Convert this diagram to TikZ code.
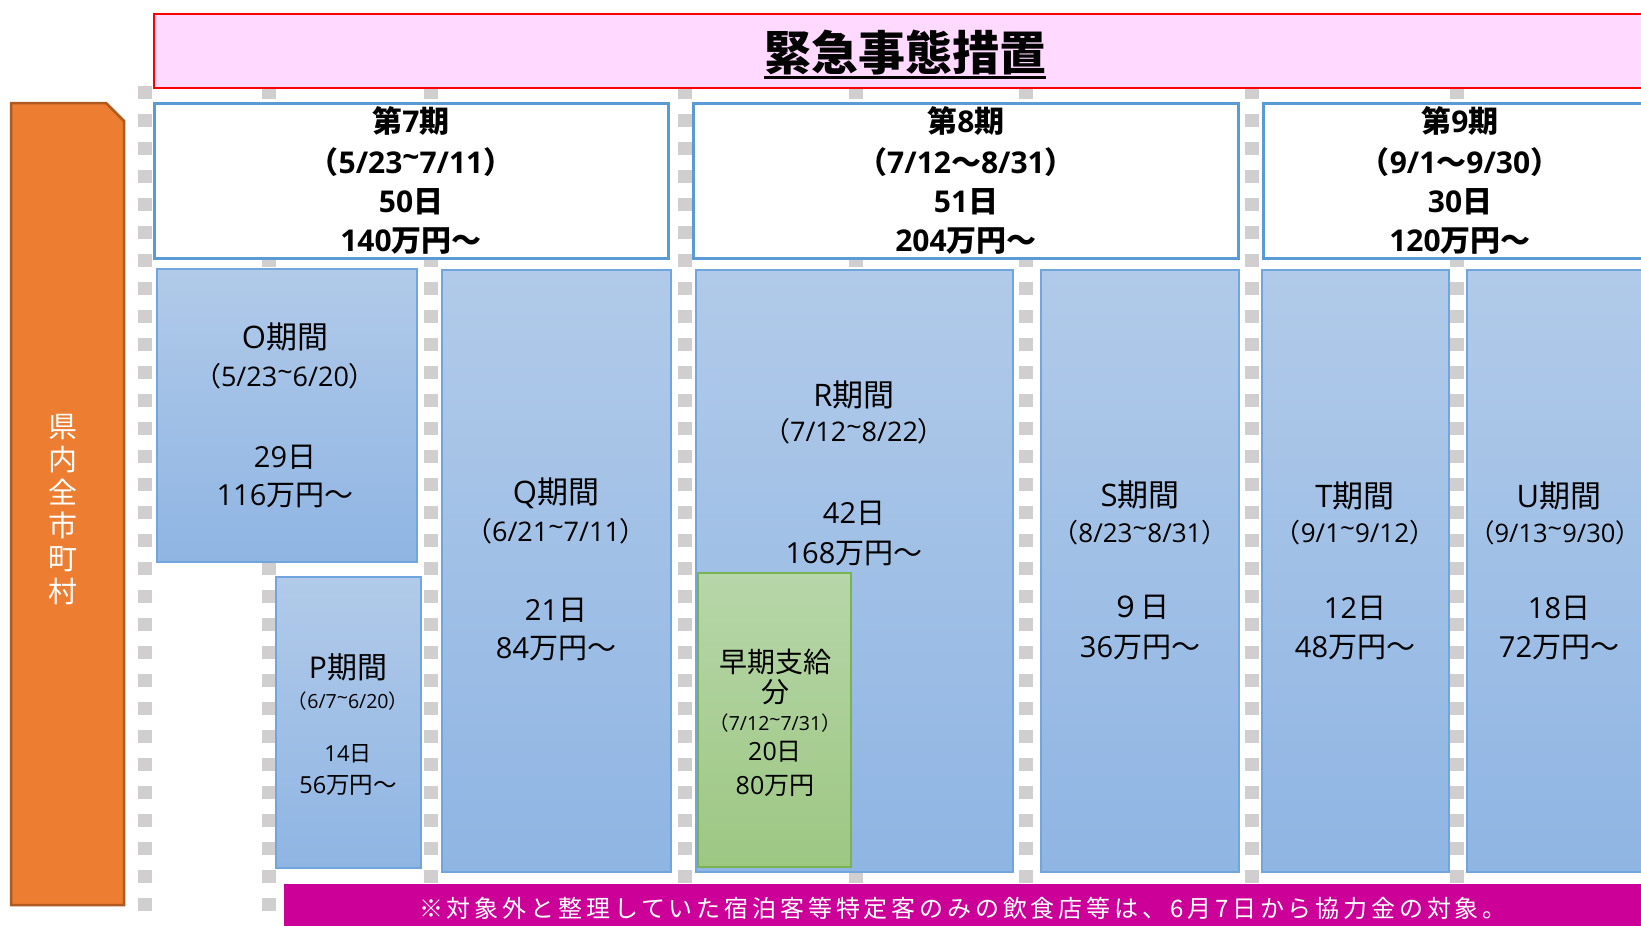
\documentclass[tikz,border=0pt]{standalone}
\usepackage{fontspec}
\setmainfont{Noto Sans CJK JP}
\newfontfamily\lat{Open Sans}
\newcommand\la[1]{{\lat #1}}
\newcommand\tld{\raisebox{0.2em}{\textasciitilde}}
\definecolor{dashgray}{RGB}{208,206,206}
\definecolor{btop}{RGB}{177,202,233}
\definecolor{bbot}{RGB}{143,181,227}
\definecolor{bborder}{RGB}{112,165,221}
\definecolor{gtop}{RGB}{183,214,169}
\definecolor{gbot}{RGB}{157,199,131}
\definecolor{gborder}{RGB}{122,180,82}
\definecolor{hborder}{RGB}{91,155,213}
\definecolor{orfill}{RGB}{237,125,49}
\definecolor{orborder}{RGB}{174,90,33}
\definecolor{pinkfill}{RGB}{255,217,255}
\definecolor{magbar}{RGB}{204,0,153}
\newcommand\bx[6][]{\node[#1, minimum width={#5-#3}, minimum height={#6-#4}] (#2) at ({(#3+#5)/2},{(#4+#6)/2}) {};}
\newcommand\tx[6][]{\node[anchor=base, inner sep=0pt, #1] (#2) at (#3,{#4+0.36*#5}) {\fontsize{#5}{#5}\selectfont #6};}
\begin{document}
\begin{tikzpicture}[x=1pt,y=-1pt,
  gline/.style={draw=dashgray, line width=14pt, dash pattern=on 13pt off 15pt},
  bluebox/.style={draw=bborder, line width=1.5pt, top color=btop, bottom color=bbot, inner sep=0pt, outer sep=0pt},
  greenbox/.style={draw=gborder, line width=1.5pt, top color=gtop, bottom color=gbot, inner sep=0pt, outer sep=0pt},
  headbox/.style={draw=hborder, line width=3pt, fill=white, inner sep=0pt, outer sep=0pt},
  pinkbox/.style={draw=red, line width=2pt, fill=pinkfill, inner sep=0pt, outer sep=0pt},
  magbox/.style={fill=magbar, inner sep=0pt, outer sep=0pt},
  htext/.style={font=\bfseries},
]
\useasboundingbox (0,0) rectangle (1641,926);
\clip (0,0) rectangle (1641,926);
% dashed gray guide lines
\foreach \gx [count=\gi] in {145,269,431,685,856,1026,1252,1457}{
  \coordinate (gt\gi) at (\gx,86);
  \coordinate (gb\gi) at (\gx,913);
  \draw[gline] (gt\gi) -- (gb\gi);
}
% top banner
\bx[pinkbox]{banner}{154}{14}{1660}{88}
\tx[htext]{title}{905}{53.5}{47}{緊急事態措置}
\draw[line width=3pt] ([yshift=-7pt]title.base west) -- ([yshift=-7pt]title.base east);
% orange side label
\draw[fill=orfill, draw=orborder, line width=2.5pt] (11,103) -- (106,103) -- (124,121) -- (124,905) -- (11,905) -- cycle;
\node[text=white, align=center, inner sep=0pt, font={\fontsize{29}{33}\selectfont}] (side) at (63,509.5) {県\\内\\全\\市\\町\\村};
% header boxes
\bx[headbox]{h7}{154}{103}{668}{258}
\bx[headbox]{h8}{693}{103}{1238}{258}
\bx[headbox]{h9}{1263}{103}{1657}{258}
\tx[htext]{h7a}{411}{122}{30}{第\la{7}期}
\tx[htext]{h7b}{411}{163}{30}{（\la{5/23\tld7/11}）}
\tx[htext]{h7c}{411}{202}{30}{\la{50}日}
\tx[htext]{h7d}{411}{241}{30}{\la{140}万円～}
\tx[htext]{h8a}{966}{122}{30}{第\la{8}期}
\tx[htext]{h8b}{966}{163}{30}{（\la{7/12}～\la{8/31}）}
\tx[htext]{h8c}{966}{202}{30}{\la{51}日}
\tx[htext]{h8d}{966}{241}{30}{\la{204}万円～}
\tx[htext]{h9a}{1460}{122}{30}{第\la{9}期}
\tx[htext]{h9b}{1460}{163}{30}{（\la{9/1}～\la{9/30}）}
\tx[htext]{h9c}{1460}{202}{30}{\la{30}日}
\tx[htext]{h9d}{1460}{241}{30}{\la{120}万円～}
% period boxes
\bx[bluebox]{O}{157}{269}{417}{562}
\bx[bluebox]{P}{276}{577}{421}{868}
\bx[bluebox]{Q}{442}{270}{671}{872}
\bx[bluebox]{R}{696}{270}{1013}{872}
\bx[greenbox]{G}{698}{573}{851}{867}
\bx[bluebox]{S}{1041}{270}{1239}{872}
\bx[bluebox]{T}{1262}{270}{1449}{872}
\bx[bluebox]{U}{1467}{270}{1651}{872}
% O
\tx{Oa}{285}{337}{31}{\la{O}期間}
\tx{Ob}{285}{377}{27}{（\la{5/23\tld6/20}）}
\tx{Oc}{285}{457}{29}{\la{29}日}
\tx{Od}{285}{495}{29}{\la{116}万円～}
% P
\tx{Pa}{348}{668}{30}{\la{P}期間}
\tx{Pb}{348}{701}{19.5}{（\la{6/7\tld6/20}）}
\tx{Pc}{348}{754}{22}{\la{14}日}
\tx{Pd}{348}{785}{23.5}{\la{56}万円～}
% Q
\tx{Qa}{556}{492}{31}{\la{Q}期間}
\tx{Qb}{556}{532}{27}{（\la{6/21\tld7/11}）}
\tx{Qc}{556}{610}{29}{\la{21}日}
\tx{Qd}{556}{648}{29}{\la{84}万円～}
% R
\tx{Ra}{854}{395}{31}{\la{R}期間}
\tx{Rb}{854}{432}{27}{（\la{7/12\tld8/22}）}
\tx{Rc}{854}{513}{29}{\la{42}日}
\tx{Rd}{854}{553}{29}{\la{168}万円～}
% early payment
\tx{Ga}{775}{662}{28}{早期支給}
\tx{Gb}{775}{692}{28}{分}
\tx{Gc}{775}{723}{19.5}{（\la{7/12\tld7/31}）}
\tx{Gd}{775}{751}{25}{\la{20}日}
\tx{Ge}{775}{785}{25}{\la{80}万円}
% S
\tx{Sa}{1140}{495}{31}{\la{S}期間}
\tx{Sb}{1140}{533}{26}{（\la{8/23\tld8/31}）}
\tx{Sc}{1140}{607}{29}{９日}
\tx{Sd}{1140}{647}{29}{\la{36}万円～}
% T
\tx{Ta}{1355}{496}{31}{\la{T}期間}
\tx{Tb}{1355}{533}{26}{（\la{9/1\tld9/12}）}
\tx{Tc}{1355}{608}{29}{\la{12}日}
\tx{Td}{1355}{647}{29}{\la{48}万円～}
% U
\tx{Ua}{1559}{496}{31}{\la{U}期間}
\tx{Ub}{1555}{533}{25.5}{（\la{9/13\tld9/30}）}
\tx{Uc}{1559}{608}{29}{\la{18}日}
\tx{Ud}{1559}{647}{29}{\la{72}万円～}
% bottom note
\bx[magbox]{note}{284}{884}{1660}{940}
\tx[text=white]{notetext}{963}{909}{24}{\addfontfeature{LetterSpace=16}※対象外と整理していた宿泊客等特定客のみの飲食店等は、6月7日から協力金の対象。}
\end{tikzpicture}
\end{document}
